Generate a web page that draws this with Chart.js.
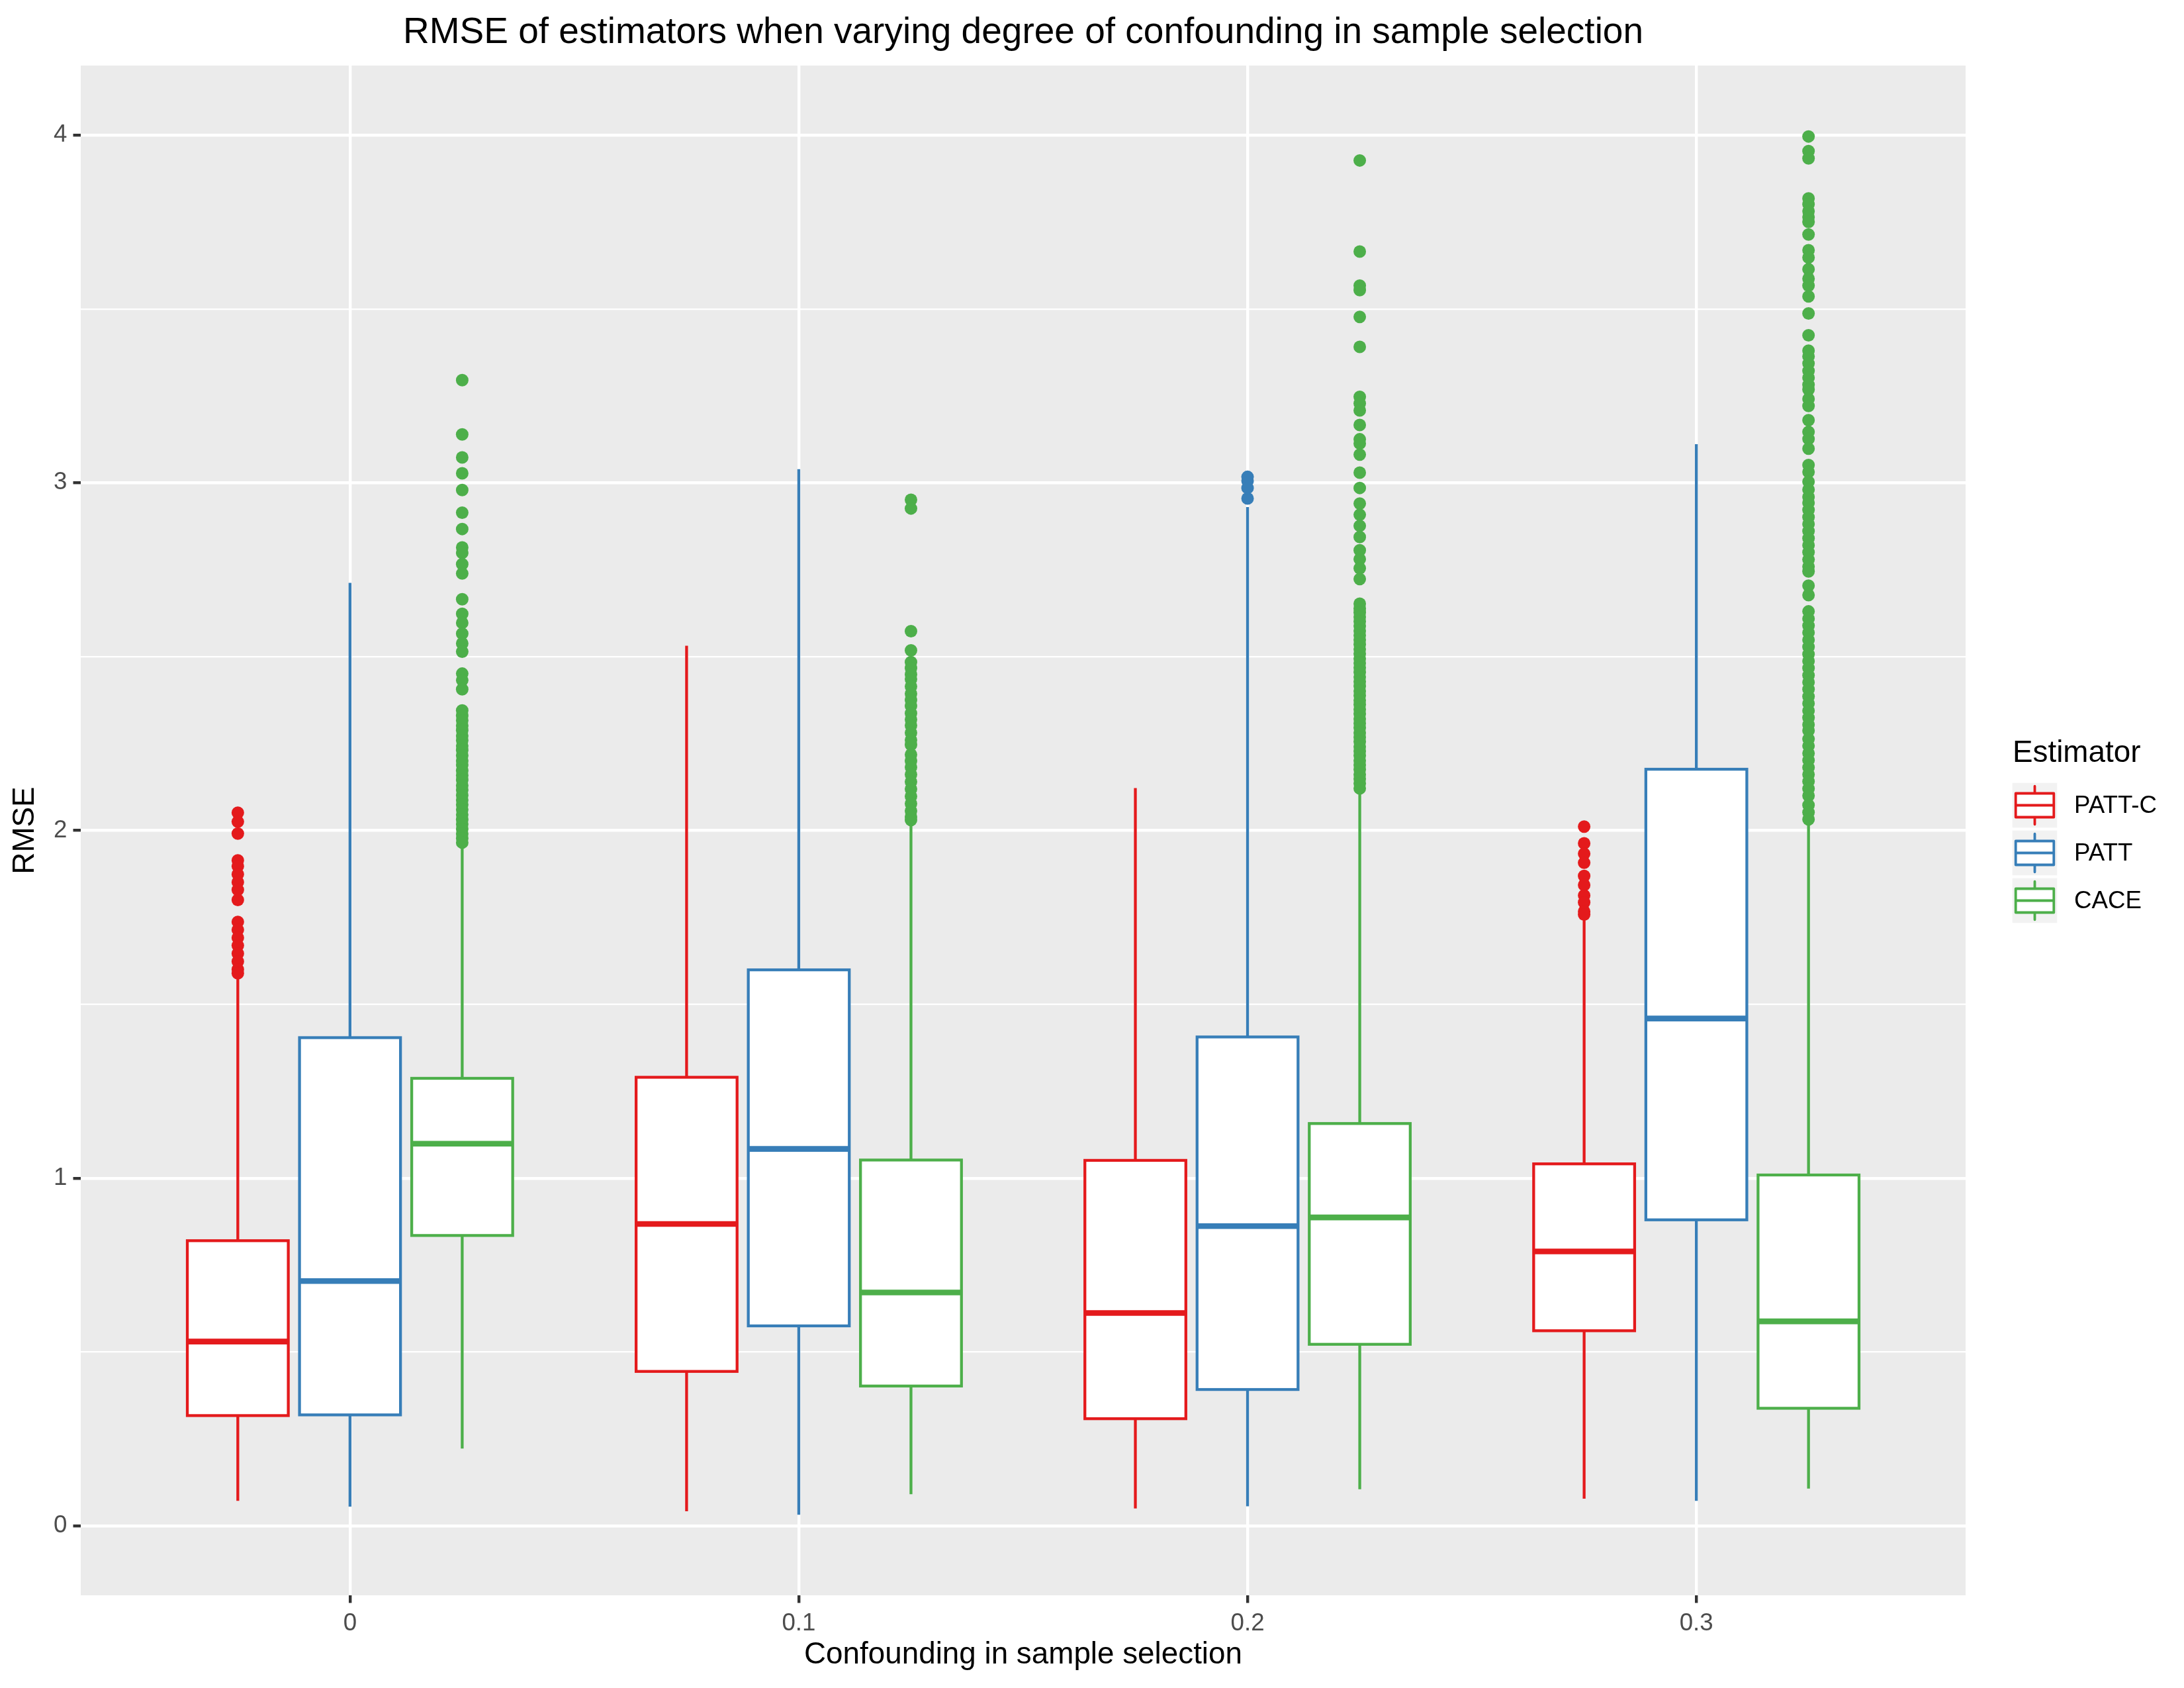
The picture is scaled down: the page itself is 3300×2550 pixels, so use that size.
<!DOCTYPE html>
<html><head><meta charset="utf-8">
<script src="https://cdn.jsdelivr.net/npm/chart.js@4.4.1/dist/chart.umd.min.js"></script>
<style>html,body{margin:0;padding:0;background:#fff}canvas{display:block}</style>
</head><body>
<canvas id="c" width="3300" height="2550"></canvas>
<script>
// ---------- DATA ----------
const categories = ['0', '0.1', '0.2', '0.3'];
const estimators = ['PATT-C', 'PATT', 'CACE'];
const yTicks = [0, 0.5, 1, 1.5, 2, 2.5, 3, 3.5, 4];
const yTickLabels = ['0', '', '1', '', '2', '', '3', '', '4'];

const pattcMin = [0.072, 0.042, 0.050, 0.078];
const pattcQ1  = [0.317, 0.444, 0.308, 0.561];
const pattcMed = [0.530, 0.868, 0.612, 0.789];
const pattcQ3  = [0.820, 1.290, 1.051, 1.041];
const pattcMax = [1.575, 2.531, 2.122, 1.745];

const pattMin = [0.055, 0.032, 0.056, 0.072];
const pattQ1  = [0.319, 0.575, 0.392, 0.880];
const pattMed = [0.704, 1.084, 0.862, 1.459];
const pattQ3  = [1.404, 1.599, 1.406, 2.176];
const pattMax = [2.712, 3.039, 2.930, 3.111];

const caceMin = [0.222, 0.091, 0.105, 0.107];
const caceQ1  = [0.835, 0.402, 0.522, 0.338];
const caceMed = [1.099, 0.671, 0.887, 0.588];
const caceQ3  = [1.287, 1.052, 1.157, 1.009];
const caceMax = [1.955, 2.020, 2.105, 2.015];

const pattcOut = [
  [2.051, 2.025, 1.991, 1.914, 1.897, 1.874, 1.851, 1.829, 1.800, 1.737, 1.714, 1.691, 1.669, 1.646, 1.623, 1.600, 1.589],
  [],
  [],
  [2.011, 1.963, 1.933, 1.907, 1.869, 1.843, 1.813, 1.793, 1.767, 1.758]
];
const pattOut = [
  [],
  [],
  [2.955, 2.985, 3.005, 3.017],
  []
];
const caceOut = [
  [3.295, 3.139, 3.073, 3.027, 2.979, 2.914, 2.867, 2.814, 2.798, 2.766, 2.739, 2.665, 2.623, 2.597, 2.566, 2.538, 2.514,
   2.451, 2.432, 2.406, 2.345, 2.330, 2.316, 2.301, 2.288, 2.272, 2.259, 2.243, 2.231, 2.215, 2.200, 2.188, 2.172, 2.158,
   2.145, 2.129, 2.116, 2.101, 2.087, 2.074, 2.060, 2.045, 2.031, 2.018, 2.004, 1.990, 1.977, 1.965],
  [2.951, 2.926, 2.573, 2.518, 2.484, 2.467, 2.449, 2.435, 2.414, 2.393, 2.375, 2.358, 2.337, 2.319, 2.302, 2.281, 2.260,
   2.246, 2.218, 2.200, 2.182, 2.161, 2.140, 2.119, 2.098, 2.077, 2.056, 2.039, 2.030],
  [3.927, 3.665, 3.567, 3.554, 3.477, 3.391, 3.247, 3.228, 3.208, 3.166, 3.125, 3.113, 3.081, 3.029, 2.985, 2.940, 2.908,
   2.876, 2.844, 2.806, 2.780, 2.754, 2.723, 2.652, 2.638, 2.627, 2.614, 2.601, 2.588, 2.574, 2.561, 2.548, 2.535, 2.521,
   2.508, 2.494, 2.481, 2.468, 2.455, 2.441, 2.428, 2.415, 2.401, 2.388, 2.374, 2.362, 2.348, 2.335, 2.321, 2.308, 2.295,
   2.281, 2.268, 2.255, 2.241, 2.228, 2.215, 2.201, 2.188, 2.175, 2.161, 2.148, 2.135, 2.121],
  [3.996, 3.954, 3.933, 3.818, 3.801, 3.781, 3.764, 3.750, 3.714, 3.669, 3.648, 3.614, 3.587, 3.567, 3.536, 3.487, 3.424,
   3.380, 3.363, 3.343, 3.322, 3.302, 3.282, 3.268, 3.241, 3.221, 3.180, 3.146, 3.126, 3.098, 3.051, 3.031, 3.003, 2.980,
   2.959, 2.942, 2.922, 2.901, 2.881, 2.861, 2.840, 2.820, 2.800, 2.779, 2.759, 2.745, 2.704, 2.677, 2.630, 2.609, 2.589,
   2.569, 2.548, 2.528, 2.507, 2.487, 2.467, 2.446, 2.426, 2.406, 2.385, 2.365, 2.344, 2.324, 2.304, 2.287, 2.263, 2.243,
   2.222, 2.202, 2.181, 2.161, 2.141, 2.120, 2.100, 2.073, 2.052, 2.032]
];

// ---------- STYLE ----------
const FONT = '"Liberation Sans", Arial, Helvetica, sans-serif';
const colors = ['#E41A1C', '#377EB8', '#4DAF4A'];
const dodge = [-0.25, 0, 0.25];
const halfBox = 0.1125;
const LW = 4.3;

const stats = [
  {min: pattcMin, q1: pattcQ1, med: pattcMed, q3: pattcQ3, max: pattcMax, out: pattcOut},
  {min: pattMin,  q1: pattQ1,  med: pattMed,  q3: pattQ3,  max: pattMax,  out: pattOut},
  {min: caceMin,  q1: caceQ1,  med: caceMed,  q3: caceQ3,  max: caceMax,  out: caceOut}
];

const datasets = stats.map((s, i) => ({
  label: estimators[i],
  data: s.out.flatMap((arr, g) => arr.map(v => ({x: g + dodge[i], y: v}))),
  backgroundColor: colors[i],
  borderColor: colors[i],
  borderWidth: 0,
  pointRadius: 9.5,
  pointHoverRadius: 9.5
}));

const boxPlugin = {
  id: 'boxes',
  beforeDraw(chart) {
    const {ctx, chartArea: a} = chart;
    ctx.save();
    ctx.fillStyle = '#FFFFFF';
    ctx.fillRect(0, 0, chart.width, chart.height);
    ctx.fillStyle = '#EBEBEB';
    ctx.fillRect(a.left, a.top, a.right - a.left, a.bottom - a.top);
    ctx.restore();
  },
  beforeDatasetsDraw(chart) {
    const xs = chart.scales.x, ys = chart.scales.y, ctx = chart.ctx;
    ctx.save();
    ctx.lineCap = 'butt';
    ctx.lineJoin = 'miter';
    stats.forEach((s, i) => {
      categories.forEach((c, g) => {
        const xc = xs.getPixelForValue(g + dodge[i]);
        const xl = xs.getPixelForValue(g + dodge[i] - halfBox);
        const xr = xs.getPixelForValue(g + dodge[i] + halfBox);
        const yMin = ys.getPixelForValue(s.min[g]);
        const yQ1 = ys.getPixelForValue(s.q1[g]);
        const yMed = ys.getPixelForValue(s.med[g]);
        const yQ3 = ys.getPixelForValue(s.q3[g]);
        const yMax = ys.getPixelForValue(s.max[g]);
        ctx.strokeStyle = colors[i];
        ctx.lineWidth = LW;
        ctx.beginPath();
        ctx.moveTo(xc, yQ3); ctx.lineTo(xc, yMax);
        ctx.moveTo(xc, yQ1); ctx.lineTo(xc, yMin);
        ctx.stroke();
        ctx.fillStyle = '#FFFFFF';
        ctx.fillRect(xl, yQ3, xr - xl, yQ1 - yQ3);
        ctx.strokeRect(xl, yQ3, xr - xl, yQ1 - yQ3);
        ctx.lineWidth = LW * 2;
        ctx.beginPath();
        ctx.moveTo(xl, yMed); ctx.lineTo(xr, yMed);
        ctx.stroke();
      });
    });
    ctx.restore();
  },
  afterDraw(chart) {
    const ctx = chart.ctx, a = chart.chartArea;
    ctx.save();
    // title
    ctx.fillStyle = '#000000';
    ctx.font = '55px ' + FONT;
    ctx.textAlign = 'center';
    ctx.textBaseline = 'alphabetic';
    ctx.fillText('RMSE of estimators when varying degree of confounding in sample selection', (a.left + a.right) / 2, 65);
    // legend
    const lx = 3038.5, ly0 = 1180.5, key = 72;
    ctx.textAlign = 'left';
    ctx.textBaseline = 'middle';
    ctx.font = '45.8px ' + FONT;
    ctx.fillText('Estimator', 3041, 1138);
    ctx.font = '36.7px ' + FONT;
    estimators.forEach((name, i) => {
      const ky = ly0 + i * key;
      ctx.fillStyle = '#F2F2F2';
      ctx.fillRect(lx + 2.2, ky + 2.2, key - 4.4, key - 4.4);
      const cx = lx + key / 2;
      ctx.strokeStyle = colors[i];
      ctx.lineWidth = 3.8;
      ctx.lineCap = 'round';
      ctx.beginPath();
      ctx.moveTo(cx, ky + 0.1 * key); ctx.lineTo(cx, ky + 0.25 * key);
      ctx.moveTo(cx, ky + 0.75 * key); ctx.lineTo(cx, ky + 0.9 * key);
      ctx.stroke();
      ctx.lineCap = 'butt';
      ctx.fillStyle = '#FFFFFF';
      ctx.fillRect(lx + 0.1 * key, ky + 0.25 * key, 0.8 * key, 0.5 * key);
      ctx.lineJoin = 'round';
      ctx.strokeRect(lx + 0.1 * key, ky + 0.25 * key, 0.8 * key, 0.5 * key);
      ctx.beginPath();
      ctx.moveTo(lx + 0.1 * key, ky + 0.5 * key); ctx.lineTo(lx + 0.9 * key, ky + 0.5 * key);
      ctx.stroke();
      ctx.fillStyle = '#000000';
      ctx.fillText(name, 3134, ky + key / 2 + 1);
    });
    ctx.restore();
  }
};

new Chart(document.getElementById('c'), {
  type: 'scatter',
  data: {datasets},
  plugins: [boxPlugin],
  options: {
    responsive: false,
    devicePixelRatio: 1,
    animation: false,
    events: [],
    layout: {padding: {top: 99, right: 330, left: 0, bottom: 0}},
    plugins: {legend: {display: false}, tooltip: {enabled: false}, title: {display: false}},
    scales: {
      x: {
        type: 'linear',
        min: -0.6, max: 3.6,
        afterBuildTicks: (s) => { s.ticks = categories.map((c, i) => ({value: i})); },
        afterFit: (s) => { s.height = 140; },
        border: {display: false},
        grid: {color: '#FFFFFF', lineWidth: 4.4, drawTicks: true, tickLength: 11.5, tickColor: '#333333', tickWidth: 4.4},
        ticks: {autoSkip: false, maxRotation: 0, padding: 9, color: '#4D4D4D', font: {family: FONT, size: 36.7},
                callback: (v) => categories[Math.round(v)]},
        title: {display: true, text: 'Confounding in sample selection', color: '#000000',
                font: {family: FONT, size: 45.8, lineHeight: 1.2}, padding: {top: 0, bottom: 22.5}}
      },
      y: {
        type: 'linear',
        min: -0.2, max: 4.2,
        afterBuildTicks: (s) => { s.ticks = yTicks.map(v => ({value: v})); },
        afterFit: (s) => { s.width = 122; },
        border: {display: false},
        grid: {
          color: '#FFFFFF',
          lineWidth: (ctx) => (ctx.tick && ctx.index % 2 === 0) ? 4.4 : 2.2,
          drawTicks: true, tickLength: 11.5,
          tickColor: (ctx) => (ctx.tick && ctx.index % 2 === 0) ? '#333333' : 'rgba(0,0,0,0)',
          tickWidth: 4.4
        },
        ticks: {autoSkip: false, padding: 9, color: '#4D4D4D', font: {family: FONT, size: 36.7},
                callback: (v, i) => yTickLabels[i]},
        title: {display: true, text: 'RMSE', color: '#000000',
                font: {family: FONT, size: 45.8, lineHeight: 1.2}, padding: {top: 10.5, bottom: 0}}
      }
    }
  }
});
</script>
</body></html>
